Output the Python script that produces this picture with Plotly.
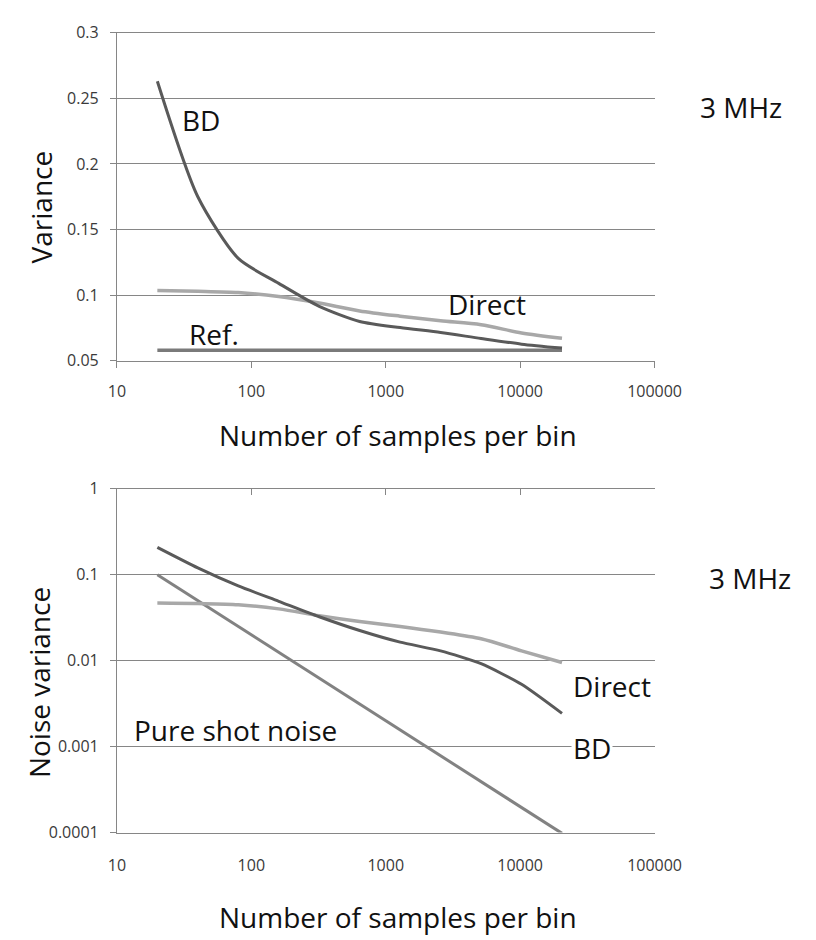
import plotly.graph_objects as go

# ---------------- data ----------------
samples = [20, 40, 80, 160, 320, 640, 1280, 2560, 5120, 10240, 20480]

# top chart: Variance
var_bd = [0.263, 0.175, 0.128, 0.109, 0.0915, 0.080, 0.0753, 0.0716, 0.067, 0.0627, 0.0597]
var_direct = [0.1036, 0.103, 0.102, 0.099, 0.094, 0.088, 0.084, 0.0805, 0.0775, 0.0712, 0.0671]
var_ref = [0.058, 0.058, 0.058, 0.058, 0.058, 0.058, 0.058, 0.058, 0.058, 0.058, 0.058]

# bottom chart: Noise variance
nv_bd = [0.208, 0.12, 0.074, 0.049, 0.0324, 0.0224, 0.0164, 0.013, 0.0092, 0.0053, 0.00243]
nv_direct = [0.0468, 0.0462, 0.0448, 0.040, 0.0333, 0.0285, 0.025, 0.0215, 0.018, 0.013, 0.0095]
nv_shot = [0.1, 0.05, 0.025, 0.0125, 0.00625, 0.003125, 0.00156, 0.00078, 0.00039, 0.000195, 0.0000977]

x_ticks = [10, 100, 1000, 10000, 100000]
x_ticktext = ["10", "100", "1000", "10000", "100000"]
y1_ticks = [0.05, 0.1, 0.15, 0.2, 0.25, 0.3]
y1_ticktext = ["0.05", "0.1", "0.15", "0.2", "0.25", "0.3"]
y2_ticks = [0.0001, 0.001, 0.01, 0.1, 1]
y2_ticktext = ["0.0001", "0.001", "0.01", "0.1", "1"]

# ---------------- layout helpers ----------------
W, H = 816, 940
FONT = "Open Sans"
AXC = "#868686"
TICKFONT = dict(family=FONT, size=16, color="#3a3a3a")


def px(x):
    return x / W


def py(y):
    return 1 - y / H


XDOM = [px(104.5), px(667)]

fig = go.Figure()

# top chart traces
fig.add_trace(go.Scatter(x=samples, y=var_ref, mode="lines", line=dict(color="#7a7a7a", width=3.5),
                         xaxis="x", yaxis="y", hoverinfo="skip"))
fig.add_trace(go.Scatter(x=samples, y=var_direct, mode="lines",
                         line=dict(color="#a8a8a8", width=3.5, shape="spline", smoothing=0.8),
                         xaxis="x", yaxis="y", hoverinfo="skip"))
fig.add_trace(go.Scatter(x=samples, y=var_bd, mode="lines",
                         line=dict(color="#5a5a5a", width=3, shape="spline", smoothing=0.7),
                         xaxis="x", yaxis="y", hoverinfo="skip"))

# bottom chart traces
fig.add_trace(go.Scatter(x=samples, y=nv_shot, mode="lines", line=dict(color="#828282", width=3),
                         xaxis="x2", yaxis="y2", hoverinfo="skip"))
fig.add_trace(go.Scatter(x=samples, y=nv_direct, mode="lines",
                         line=dict(color="#a8a8a8", width=3.5, shape="spline", smoothing=0.8),
                         xaxis="x2", yaxis="y2", hoverinfo="skip"))
fig.add_trace(go.Scatter(x=samples, y=nv_bd, mode="lines",
                         line=dict(color="#5a5a5a", width=3, shape="spline", smoothing=0.6),
                         xaxis="x2", yaxis="y2", hoverinfo="skip"))

common_x = dict(type="log", range=[1, 5], tickvals=x_ticks, ticktext=x_ticktext,
                tickfont=TICKFONT, showgrid=False, zeroline=False, domain=XDOM)

fig.update_layout(
    width=W, height=H,
    margin=dict(l=0, r=0, t=0, b=0),
    paper_bgcolor="white", plot_bgcolor="white",
    showlegend=False,
    xaxis=dict(**common_x, anchor="y", showline=True, linecolor=AXC, linewidth=1, mirror=True,
               ticks="outside", ticklen=6, tickcolor=AXC, ticklabelstandoff=10),
    yaxis=dict(domain=[py(350), py(14)], range=[0.05, 0.3], tickvals=y1_ticks, ticktext=y1_ticktext,
               tickfont=TICKFONT, showgrid=True, gridcolor=AXC, gridwidth=1, zeroline=False,
               showline=True, linecolor=AXC, linewidth=1, ticks="outside", ticklen=6, tickcolor=AXC,
               ticklabelstandoff=8, anchor="x"),
    xaxis2=dict(**common_x, anchor="y2", showline=True, linecolor=AXC, linewidth=1, ticks="",
                ticklabelstandoff=18),
    xaxis3=dict(type="log", range=[1, 5], tickvals=x_ticks, showticklabels=False, overlaying="x2",
                anchor="y2", side="top", showline=True, linecolor=AXC, linewidth=1, ticks="inside",
                ticklen=6, tickcolor=AXC, showgrid=False, zeroline=False, domain=XDOM),
    yaxis2=dict(domain=[py(833), py(481)], type="log", range=[-4, 0], tickvals=y2_ticks,
                ticktext=y2_ticktext, tickfont=TICKFONT, showgrid=True, gridcolor=AXC, gridwidth=1,
                zeroline=False, showline=True, linecolor=AXC, linewidth=1, ticks="outside", ticklen=6,
                tickcolor=AXC, ticklabelstandoff=8, anchor="x2"),
)

# invisible trace so that the overlaying top axis of the lower chart is drawn
fig.add_trace(go.Scatter(x=[100], y=[1], mode="markers", marker=dict(opacity=0), xaxis="x3", yaxis="y2",
                         hoverinfo="skip"))


def label(text, x, y, size=28, bg=None, angle=0):
    a = dict(text=text, x=px(x), y=py(y), xref="paper", yref="paper", showarrow=False,
             xanchor="center", yanchor="middle", textangle=angle,
             font=dict(family=FONT, size=size, color="#111111"))
    if bg:
        a.update(bgcolor=bg, borderpad=1)
    fig.add_annotation(**a)


# top chart labels
label("BD", 192, 103)
label("Ref.", 206, 323)
label("Direct", 492, 292)
label("3 MHz", 757, 90)
label("Variance", 25, 192, angle=-90)
label("Number of samples per bin", 399, 426)

# bottom chart labels
label("3 MHz", 767, 572)
label("Direct", 622, 683)
label("BD", 602, 746, bg="white")
label("Pure shot noise", 229, 728)
label("Noise variance", 23, 679, angle=-90)
label("Number of samples per bin", 399, 920)

fig.write_html("out.html")
